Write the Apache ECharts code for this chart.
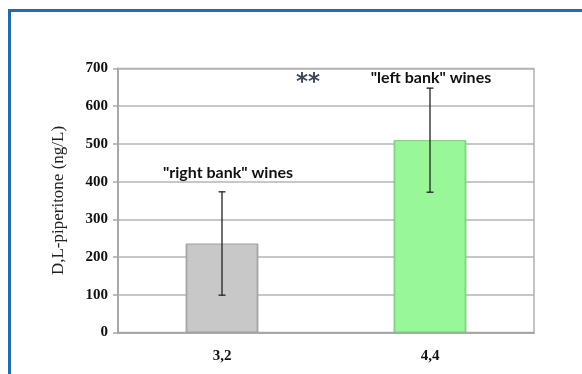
<!DOCTYPE html>
<html>
<head>
<meta charset="utf-8">
<script src="https://cdn.jsdelivr.net/npm/echarts@6/dist/echarts.min.js"></script>
<style>
  html, body { margin: 0; padding: 0; background: #ffffff; }
  #chart { width: 582px; height: 374px; }
</style>
</head>
<body>
<div id="chart"></div>
<script>
// Isomer ratio groups on the x axis
const categories = ['3,2', '4,4'];
// Mean D,L-piperitone concentration (ng/L) and standard deviation
const meanValues = [236, 510];
const sdValues = [137, 138];
// Y axis range
const yTicks = [0, 100, 200, 300, 400, 500, 600, 700];
// Group annotations placed above each bar
const groupNames = ['"right bank" wines', '"left bank" wines'];
const groupLabelValues = [423, 675];
const significance = '**';

const barColors = [
  { fill: '#c8c8c8', edge: '#9e9e9e' },
  { fill: '#98f898', edge: '#7ccc7c' }
];
// horizontal nudge of each group name relative to its bar centre (px)
const labelNudge = [6, 1];

const chart = echarts.init(document.getElementById('chart'), null, { renderer: 'canvas' });

const serif = '"Liberation Serif", "DejaVu Serif", serif';

chart.setOption({
  animation: false,
  backgroundColor: '#ffffff',
  grid: {
    left: 118, right: 48, top: 68.5, bottom: 41.5,
    show: true, borderColor: '#b0b0b0', borderWidth: 1.5, backgroundColor: 'transparent'
  },
  xAxis: {
    type: 'category',
    data: categories,
    axisLine: { lineStyle: { color: '#a8a8a8', width: 2 } },
    axisTick: { show: false },
    axisLabel: { fontFamily: serif, fontWeight: 'bold', fontSize: 15, color: '#111', margin: 16 }
  },
  yAxis: {
    type: 'value',
    min: yTicks[0], max: yTicks[yTicks.length - 1], interval: 100,
    name: 'D,L-piperitone (ng/L)',
    nameLocation: 'middle',
    nameGap: 51,
    nameTextStyle: { fontFamily: serif, fontSize: 17, color: '#222' },
    axisLine: { show: true, lineStyle: { color: '#a8a8a8', width: 2 } },
    axisTick: { show: true, length: 5, lineStyle: { color: '#a8a8a8', width: 1.5 } },
    axisLabel: { fontFamily: serif, fontWeight: 'bold', fontSize: 15, color: '#111', margin: 10 },
    splitLine: { lineStyle: { color: '#b4b4b4', width: 1.5 } }
  },
  series: [
    {
      type: 'bar',
      barWidth: '35%',
      data: meanValues.map((v, i) => ({
        value: v,
        itemStyle: {
          color: {
            type: 'linear', x: 0, y: 0, x2: 1, y2: 0,
            colorStops: [
              { offset: 0, color: barColors[i].edge },
              { offset: 0.04, color: barColors[i].fill },
              { offset: 0.96, color: barColors[i].fill },
              { offset: 1, color: barColors[i].edge }
            ]
          },
          borderColor: barColors[i].edge,
          borderWidth: 1
        }
      })),
      z: 2
    },
    {
      // error bars: vertical whisker with short caps
      type: 'custom',
      data: meanValues.map((v, i) => [i, v - sdValues[i], v + sdValues[i]]),
      renderItem: function (params, api) {
        const x = api.value(0);
        const lo = api.coord([x, api.value(1)]);
        const hi = api.coord([x, api.value(2)]);
        const cap = 3.5;
        const style = { stroke: '#222', lineWidth: 1.3 };
        return {
          type: 'group',
          children: [
            { type: 'line', shape: { x1: lo[0], y1: lo[1], x2: hi[0], y2: hi[1] }, style },
            { type: 'line', shape: { x1: hi[0] - cap, y1: hi[1], x2: hi[0] + cap, y2: hi[1] }, style },
            { type: 'line', shape: { x1: lo[0] - cap, y1: lo[1], x2: lo[0] + cap, y2: lo[1] }, style }
          ]
        };
      },
      z: 5
    },
    {
      // group names above the bars
      type: 'custom',
      data: groupLabelValues.map((v, i) => [i, v]),
      renderItem: function (params, api) {
        const p = api.coord([api.value(0), api.value(1)]);
        return {
          type: 'text',
          x: p[0] + labelNudge[params.dataIndex], y: p[1],
          style: {
            text: groupNames[params.dataIndex],
            fontFamily: 'Lato, "Open Sans", sans-serif',
            fontWeight: 'bold',
            fontSize: 16,
            fill: '#111',
            align: 'center',
            verticalAlign: 'middle'
          }
        };
      },
      z: 6
    }
  ],
  graphic: [
    {
      type: 'rect',
      shape: { x: 9.5, y: 10.5, width: 700, height: 500 },
      style: { fill: 'none', stroke: '#1f6db0', lineWidth: 3 },
      silent: true
    },
    {
      type: 'text',
      left: 296, top: 72,
      style: {
        text: significance,
        fontFamily: '"DejaVu Sans", sans-serif',
        fontSize: 23,
        fontWeight: 'bold',
        fill: '#3c4a5c'
      }
    }
  ]
});
</script>
</body>
</html>
